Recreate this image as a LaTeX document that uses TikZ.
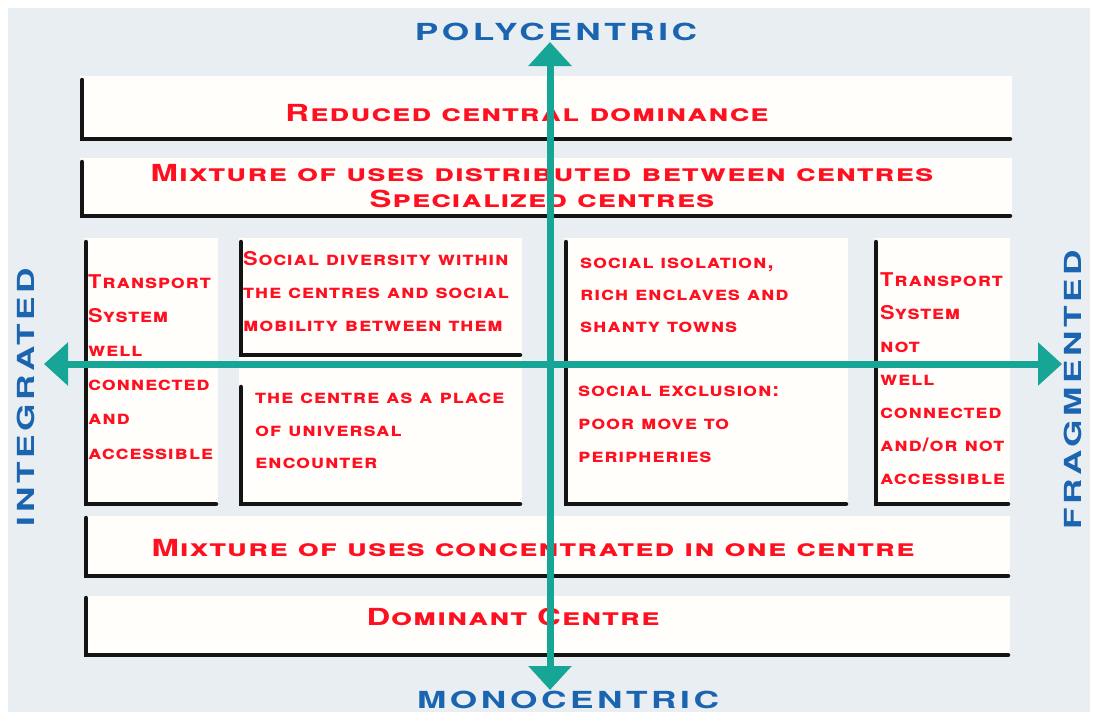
\documentclass[tikz,border=0pt]{standalone}
\usepackage{fontspec}
\usetikzlibrary{arrows.meta}
% wide bold small-cap faces for the three text groups
\newfontfamily\copHead[LetterSpace=4,FakeStretch=1.4]{TeX Gyre Heros}
\newfontfamily\copCell[LetterSpace=4,FakeStretch=1.15]{TeX Gyre Heros}
\newfontfamily\copAxis[LetterSpace=15,FakeStretch=1.5]{TeX Gyre Heros}
\definecolor{panel}{HTML}{E9EEF2}
\definecolor{boxfill}{HTML}{FFFEFB}
\definecolor{axisteal}{HTML}{17A596}
\definecolor{axisblue}{HTML}{1A64B0}
\definecolor{txtred}{HTML}{FF1020}
\tikzset{
  bgbox/.style={fill=boxfill, draw=none},
  frame/.style={draw=black!92, line width=4.5pt, line cap=round, line join=miter},
  hdr/.style={text=txtred, inner sep=0pt, font=\copHead\bfseries\scshape\fontsize{23.5}{26}\selectfont},
  cell/.style={text=txtred, inner sep=0pt, align=left, anchor=north west,
    font=\copCell\bfseries\scshape\fontsize{19}{33}\selectfont},
  axislbl/.style={text=axisblue, inner sep=0pt, font=\copAxis\bfseries\fontsize{23.5}{26}\selectfont},
  axisarrow/.style={draw=axisteal, line width=7pt,
    {Triangle[width=42pt,length=24pt]}-{Triangle[width=42pt,length=24pt]}}
}
\begin{document}
\begin{tikzpicture}[x=1pt,y=-1pt]
  \useasboundingbox (0,0) rectangle (1094,718);
  \fill[white] (0,0) rectangle (1094,718);
  \fill[panel] (8,8) rectangle (1090,712);

  % white box backgrounds
  \fill[bgbox] (80,76) rectangle (1012,140);
  \fill[bgbox] (80,158) rectangle (1012,218);
  \fill[bgbox] (84,238) rectangle (218,505);
  \fill[bgbox] (239,238) rectangle (522,505);
  \fill[bgbox] (564,238) rectangle (848,505);
  \fill[bgbox] (874,238) rectangle (1010,505);
  \fill[bgbox] (84,516) rectangle (1010,577);
  \fill[bgbox] (84,596) rectangle (1010,656);

  % L-shaped frames
  \draw[frame] (82,80) |- (1010,139);
  \draw[frame] (82,162) |- (1010,216);
  \draw[frame] (86,242) |- (216,504);
  \draw[frame] (241,242) |- (520,355);
  \draw[frame] (241,387) |- (520,504);
  \draw[frame] (566,242) |- (846,504);
  \draw[frame] (876,242) |- (1008,504);
  \draw[frame] (86,518) |- (1008,576);
  \draw[frame] (86,598) |- (1008,655);

  % row texts
  \node[hdr] (reduced) at (527,113) {Reduced central dominance};
  \node[hdr, align=center] (distrib) at (542,186) {Mixture of uses distributed between centres\\Specialized centres};
  \node[hdr] (concentr) at (533,548) {Mixture of uses concentrated in one centre};
  \node[hdr] (dominant) at (513,617) {Dominant Centre};

  % cell texts
  \node[cell, font=\copCell\bfseries\scshape\fontsize{19}{34.2}\selectfont] (transpA) at (88,274) {Transport\\System\\well\\connected\\and\\accessible};
  \node[cell] (diversity) at (243,251) {Social diversity within\\the centres and social\\mobility between them};
  \node[cell, font=\copCell\bfseries\scshape\fontsize{19}{32.5}\selectfont] (encounter) at (255,393) {the centre as a place\\of universal\\encounter};
  \node[cell, font=\copCell\bfseries\scshape\fontsize{19}{32}\selectfont] (isolation) at (580,258) {social isolation,\\rich enclaves and\\shanty towns};
  \node[cell] (exclusion) at (578,386) {social exclusion:\\poor move to\\peripheries};
  \node[cell] (transpB) at (880,272) {Transport\\System\\not\\well\\connected\\and/or not\\accessible};

  % axes
  \coordinate (top) at (550,42);
  \coordinate (bottom) at (550,690);
  \coordinate (left) at (44,364);
  \coordinate (right) at (1062,364);
  \draw[axisarrow] (bottom) -- (top);
  \draw[axisarrow] (left) -- (right);

  \node[axislbl] (poly) at (556,32) {POLYCENTRIC};
  \node[axislbl] (mono) at (568,700) {MONOCENTRIC};
  \node[axislbl, rotate=90] (integ) at (26,397) {INTEGRATED};
  \node[axislbl, rotate=90] (frag) at (1073,390) {FRAGMENTED};
\end{tikzpicture}
\end{document}
